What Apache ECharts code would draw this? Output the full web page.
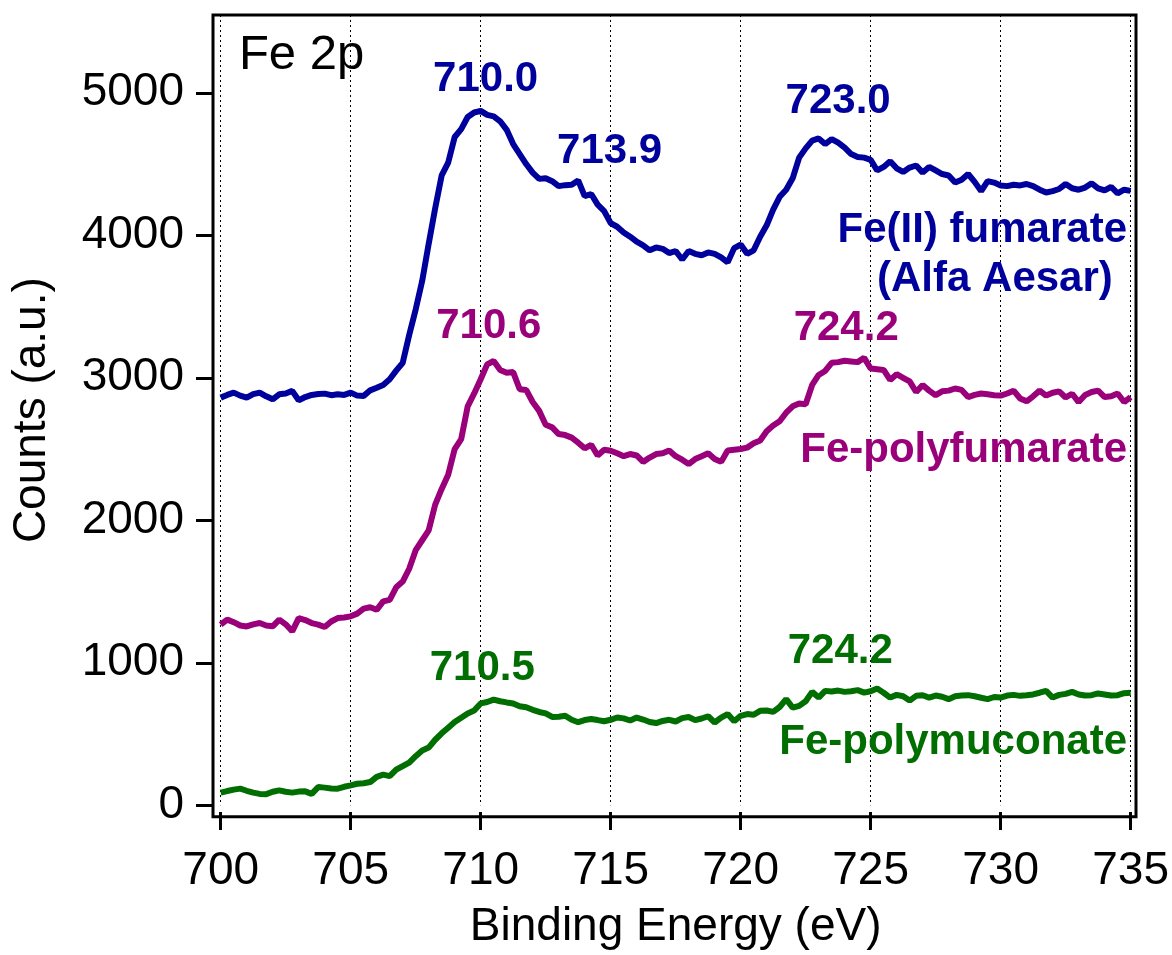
<!DOCTYPE html>
<html>
<head>
<meta charset="utf-8">
<script src="https://cdn.jsdelivr.net/npm/echarts@6.0.0/dist/echarts.min.js"></script>
<style>
  html, body { margin: 0; padding: 0; background: #fff; }
  #chart { width: 1172px; height: 955px; }
</style>
</head>
<body>
<div id="chart"></div>
<script>
// binding energy grid (eV)
const energy = [
  700.00,700.25,700.50,700.75,701.00,701.25,701.50,701.75,702.00,702.25,702.50,702.75,703.00,703.25,703.50,703.75,704.00,704.25,704.50,704.75,
  705.00,705.25,705.50,705.75,706.00,706.25,706.50,706.75,707.00,707.25,707.50,707.75,708.00,708.25,708.50,708.75,709.00,709.25,709.50,709.75,
  710.00,710.25,710.50,710.75,711.00,711.25,711.50,711.75,712.00,712.25,712.50,712.75,713.00,713.25,713.50,713.75,714.00,714.25,714.50,714.75,
  715.00,715.25,715.50,715.75,716.00,716.25,716.50,716.75,717.00,717.25,717.50,717.75,718.00,718.25,718.50,718.75,719.00,719.25,719.50,719.75,
  720.00,720.25,720.50,720.75,721.00,721.25,721.50,721.75,722.00,722.25,722.50,722.75,723.00,723.25,723.50,723.75,724.00,724.25,724.50,724.75,
  725.00,725.25,725.50,725.75,726.00,726.25,726.50,726.75,727.00,727.25,727.50,727.75,728.00,728.25,728.50,728.75,729.00,729.25,729.50,729.75,
  730.00,730.25,730.50,730.75,731.00,731.25,731.50,731.75,732.00,732.25,732.50,732.75,733.00,733.25,733.50,733.75,734.00,734.25,734.50,734.75,
  735.00
];

// Fe(II) fumarate (Alfa Aesar)
const fumarate = [
  2861,2880,2896,2875,2861,2885,2896,2870,2849,2884,2890,2908,2842,2865,2880,2886,2889,2878,2884,2880,
  2896,2875,2873,2912,2930,2950,2990,3050,3105,3300,3480,3680,3940,4190,4420,4510,4690,4745,4830,4862,
  4873,4845,4835,4800,4740,4640,4570,4500,4440,4396,4401,4380,4345,4352,4355,4385,4275,4290,4215,4170,
  4085,4060,4020,3990,3955,3930,3895,3915,3905,3875,3890,3830,3890,3870,3860,3880,3870,3845,3810,3910,
  3935,3870,3895,3990,4070,4180,4270,4320,4400,4545,4610,4665,4680,4640,4675,4650,4615,4570,4550,4545,
  4530,4455,4480,4520,4470,4445,4475,4490,4440,4480,4455,4430,4420,4370,4390,4430,4375,4310,4380,4370,
  4350,4345,4355,4350,4360,4345,4320,4300,4310,4325,4360,4330,4320,4335,4365,4330,4315,4340,4295,4320,
  4312
];

// Fe-polyfumarate
const polyfumarate = [
  1268,1303,1285,1262,1255,1270,1279,1262,1256,1303,1270,1221,1314,1300,1279,1268,1251,1290,1314,1318,
  1326,1345,1380,1390,1372,1431,1442,1530,1570,1660,1790,1860,1930,2110,2220,2320,2500,2570,2800,2890,
  2990,3094,3118,3055,3035,3040,2920,2915,2830,2768,2670,2652,2605,2598,2580,2545,2505,2530,2455,2495,
  2488,2470,2450,2465,2455,2410,2440,2465,2470,2490,2450,2425,2395,2430,2450,2470,2430,2410,2490,2495,
  2500,2510,2540,2560,2625,2665,2695,2755,2800,2820,2815,2950,3020,3048,3105,3110,3120,3115,3110,3140,
  3065,3060,3055,2985,3025,3000,2975,2900,2950,2910,2878,2905,2910,2925,2915,2865,2880,2890,2885,2878,
  2875,2890,2910,2855,2835,2870,2910,2875,2895,2905,2862,2888,2830,2880,2900,2910,2865,2870,2890,2830,
  2865
];

// Fe-polymuconate
const polymuconate = [
  89,100,110,117,102,89,80,78,95,105,95,89,96,98,80,128,124,118,117,130,
  140,151,155,163,200,215,205,250,275,300,345,385,405,460,505,545,585,615,645,665,
  715,725,742,730,722,715,695,688,670,655,645,620,622,628,600,583,598,605,598,590,
  600,616,610,595,616,602,585,577,592,600,588,612,620,598,609,625,581,615,640,590,
  628,640,635,663,665,656,690,745,686,698,730,796,756,803,798,805,796,800,808,791,
  800,819,790,756,775,765,735,768,772,756,770,762,745,765,770,773,765,755,745,760,
  756,770,775,768,772,778,790,803,756,775,782,796,778,770,773,785,778,770,773,787,
  790
];

const yTicks = [0, 1000, 2000, 3000, 4000, 5000];

// peak labels: [energy, counts, text]
const fumaratePeaks = [[710.19, 5094, '710.0'], [714.96, 4592, '713.9'], [723.75, 4941, '723.0']];
const polyfumaratePeaks = [[710.31, 3364, '710.6'], [724.06, 3350, '724.2']];
const polymuconatePeaks = [[710.06, 963, '710.5'], [723.83, 1082, '724.2']];

// sample names: [energy, counts, text]
const fumarateName = [[734.86, 4034, 'Fe(II) fumarate']];
const fumarateSource = [[729.78, 3692, '(Alfa Aesar)']];
const polyfumarateName = [[734.86, 2491, 'Fe-polyfumarate']];
const polymuconateName = [[734.86, 440, 'Fe-polymuconate']];
const panelTitle = [[700.70, 5265, 'Fe 2p']];

const BLUE = '#00009c';
const MAGENTA = '#99007a';
const GREEN = '#006e00';
const FONT = "'Liberation Sans', Arial, sans-serif";

function curve(name, values, color) {
  return {
    name: name,
    type: 'line',
    data: energy.map((e, i) => [e, values[i]]),
    showSymbol: false,
    symbol: 'none',
    lineStyle: { color: color, width: 6 },
    z: 3,
    silent: true
  };
}

// text placed at data coordinates
function notes(list, color, align, bold, size) {
  return {
    type: 'scatter',
    symbolSize: 0,
    silent: true,
    z: 4,
    data: list.map(p => ({ value: [p[0], p[1]], name: p[2] })),
    itemStyle: { color: 'transparent', opacity: 1 },
    label: {
      show: true,
      position: 'inside',
      formatter: '{b}',
      align: align,
      verticalAlign: 'middle',
      color: color,
      opacity: 1,
      textBorderWidth: 0,
      fontFamily: FONT,
      fontWeight: bold ? 'bold' : 'normal',
      fontSize: size
    }
  };
}

const chart = echarts.init(document.getElementById('chart'));

chart.setOption({
  animation: false,
  backgroundColor: '#fff',
  grid: [
    { left: 220.7, right: 40, top: 15, bottom: 145 },
    { left: 213, right: 36, top: 15, bottom: 138.3, show: true,
      borderColor: '#000', borderWidth: 3, backgroundColor: 'transparent' }
  ],
  xAxis: [
    {
      type: 'value', gridIndex: 0, min: 700, max: 735, interval: 5,
      position: 'bottom', offset: 6.7,
      axisLine: { show: false, onZero: false },
      axisTick: { show: true, length: 18, lineStyle: { color: '#000', width: 3 } },
      axisLabel: { color: '#000', fontFamily: FONT, fontSize: 46, margin: 36 },
      splitLine: { show: true, lineStyle: { color: '#000', width: 1, type: [2, 3] } },
      name: 'Binding Energy (eV)', nameLocation: 'middle', nameGap: 92,
      nameTextStyle: { color: '#000', fontFamily: FONT, fontSize: 46 }
    },
    { type: 'value', gridIndex: 1, show: false, min: 0, max: 1 }
  ],
  yAxis: [
    {
      type: 'value', gridIndex: 0, min: 0, max: 5546,
      position: 'left', offset: 7.7,
      axisLine: { show: false, onZero: false },
      axisTick: { show: true, length: 17, customValues: yTicks, lineStyle: { color: '#000', width: 3 } },
      axisLabel: { color: '#000', fontFamily: FONT, fontSize: 46, margin: 29,
                   customValues: yTicks, formatter: v => String(v) },
      splitLine: { show: false },
      name: 'Counts (a.u.)', nameLocation: 'middle', nameGap: 158,
      nameTextStyle: { color: '#000', fontFamily: FONT, fontSize: 46 }
    },
    { type: 'value', gridIndex: 1, show: false, min: 0, max: 1 }
  ],
  series: [
    curve('Fe(II) fumarate', fumarate, BLUE),
    curve('Fe-polyfumarate', polyfumarate, MAGENTA),
    curve('Fe-polymuconate', polymuconate, GREEN),
    notes(fumaratePeaks, BLUE, 'center', true, 42),
    notes(polyfumaratePeaks, MAGENTA, 'center', true, 42),
    notes(polymuconatePeaks, GREEN, 'center', true, 42),
    notes(fumarateName, BLUE, 'right', true, 42),
    notes(fumarateSource, BLUE, 'center', true, 42),
    notes(polyfumarateName, MAGENTA, 'right', true, 42),
    notes(polymuconateName, GREEN, 'right', true, 42),
    notes(panelTitle, '#000', 'left', false, 49)
  ]
});
</script>
</body>
</html>
